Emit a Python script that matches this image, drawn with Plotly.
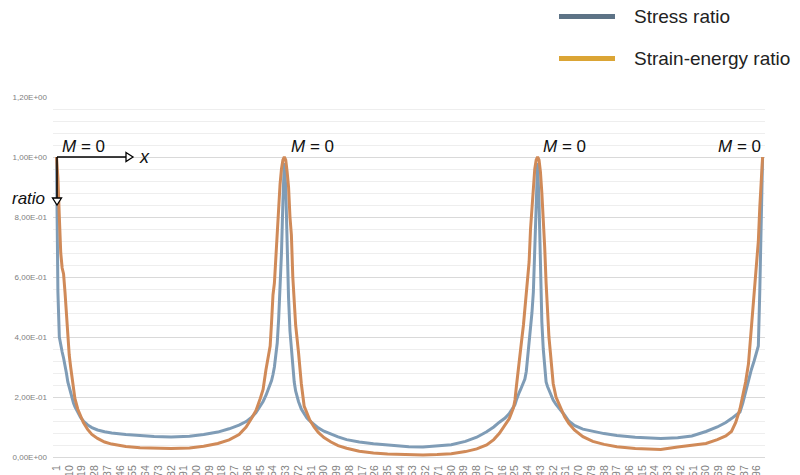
import plotly.graph_objects as go

# ---------------- data ----------------
# sample positions along the member (category index 1..500)
idx = [1, 2, 3, 4, 5, 6, 7, 8, 9, 10, 11, 12, 13, 14, 16, 18, 20, 23, 26, 30, 35, 40, 50, 60, 70, 82,
       95, 105, 115, 123, 130, 135, 139, 142, 145, 147, 149, 151, 152, 153, 154, 155, 156, 157, 158, 159, 160, 161, 162,
       163, 164, 165, 166, 167, 168, 169, 170, 172, 174, 176, 178, 180, 183, 186, 190, 195, 200, 206, 215, 225, 235,
       250, 260, 270, 280, 290, 298, 305, 310, 314, 318, 321, 324, 325, 326, 327, 328, 329, 330, 331, 332, 333, 334,
       335, 336, 337, 338, 339, 340, 341,
       342, 343, 344, 345, 346, 347, 348, 349, 350, 352, 354, 357, 360, 363, 367, 373, 380, 388, 397, 410, 428,
       440, 450, 460, 468, 474, 478, 481, 484, 486, 488, 490, 492, 494, 495, 496, 497, 498, 499, 500]

stress_ratio = [1.00, 0.55, 0.40, 0.37, 0.35, 0.33, 0.31, 0.28, 0.25, 0.23, 0.21, 0.195, 0.18, 0.168, 0.148, 0.132,
                0.12, 0.107, 0.098, 0.09, 0.084, 0.08, 0.075, 0.071, 0.068, 0.067,
                0.069, 0.075, 0.083, 0.094, 0.106, 0.118, 0.133, 0.148, 0.168, 0.185, 0.205, 0.23, 0.24, 0.255,
                0.275, 0.30, 0.34, 0.38, 0.46, 0.55, 0.68, 0.85, 0.98,
                0.90, 0.70, 0.53, 0.42, 0.36, 0.30, 0.25, 0.22, 0.185, 0.16, 0.145, 0.13, 0.12, 0.107, 0.097,
                0.086, 0.076, 0.067, 0.058, 0.05, 0.044, 0.039,
                0.034, 0.033, 0.036, 0.041, 0.052, 0.066, 0.084, 0.1, 0.116, 0.13, 0.145, 0.165, 0.175, 0.19,
                0.205, 0.215, 0.225, 0.235, 0.245, 0.26, 0.285, 0.33,
                0.37, 0.42, 0.48, 0.55, 0.68, 0.85, 0.98,
                0.85, 0.62, 0.45, 0.36, 0.29, 0.25, 0.235, 0.222, 0.21, 0.19, 0.175, 0.158, 0.14, 0.12, 0.105,
                0.093, 0.085, 0.078, 0.072, 0.066, 0.062,
                0.064, 0.07, 0.085, 0.1, 0.115, 0.128, 0.138, 0.15, 0.18, 0.22, 0.26, 0.29, 0.32, 0.335, 0.35,
                0.37, 0.55, 0.75, 1.00]

strain_energy_ratio = [1.00, 0.93, 0.80, 0.68, 0.63, 0.61, 0.55, 0.47, 0.40, 0.34, 0.30, 0.26, 0.22, 0.195, 0.16,
                       0.135, 0.115, 0.092, 0.075, 0.062, 0.05, 0.043, 0.035, 0.031, 0.029, 0.028,
                       0.03, 0.036, 0.045, 0.057, 0.075, 0.1, 0.13, 0.155, 0.195, 0.225, 0.29, 0.34, 0.37, 0.45,
                       0.54, 0.58, 0.66, 0.76, 0.85, 0.91, 0.96, 0.99, 1.00,
                       0.99, 0.95, 0.90, 0.80, 0.74, 0.60, 0.50, 0.44, 0.35, 0.245, 0.17, 0.145, 0.123, 0.10,
                       0.082, 0.065, 0.05, 0.038, 0.029, 0.019, 0.013, 0.01,
                       0.007, 0.007, 0.008, 0.011, 0.018, 0.027, 0.04, 0.058, 0.079, 0.105, 0.128, 0.165, 0.19,
                       0.235, 0.28, 0.33, 0.37, 0.40, 0.44, 0.49, 0.54, 0.58,
                       0.65, 0.76, 0.84, 0.90, 0.96, 0.99, 1.00,
                       0.99, 0.95, 0.88, 0.80, 0.70, 0.58, 0.48, 0.40, 0.35, 0.245, 0.2, 0.165, 0.135, 0.112, 0.09,
                       0.068, 0.052, 0.042, 0.034, 0.028, 0.025,
                       0.033, 0.039, 0.045, 0.058, 0.07, 0.085, 0.115, 0.16, 0.2, 0.25, 0.31, 0.42, 0.55, 0.6, 0.64,
                       0.72, 0.83, 0.92, 1.00]

x_tick_vals = list(range(1, 497, 9))
x_tick_text = [str(v) for v in x_tick_vals]
y_tick_vals = [0.0, 0.2, 0.4, 0.6, 0.8, 1.0, 1.2]
y_tick_text = ["0,00E+00", "2,00E-01", "4,00E-01", "6,00E-01", "8,00E-01", "1,00E+00", "1,20E+00"]
series_names = ["Stress ratio", "Strain-energy ratio"]
zero_moment_label = "<i>M</i> = 0"

# ---------------- layout geometry ----------------
W, H = 800, 475
ML, MR, MT, MB = 53, 35, 97, 18
PW, PH = W - ML - MR, H - MT - MB


def px(xp):
    return (xp - ML) / PW


def py(yp):
    return (H - MB - yp) / PH


FONT = "Liberation Sans, Arial, sans-serif"
BLUE = "#7f9cb6"
ORANGE = "#d08a58"

fig = go.Figure()
fig.add_trace(go.Scatter(x=idx, y=stress_ratio, mode="lines", name=series_names[0],
                         line=dict(color=BLUE, width=3), showlegend=False))
fig.add_trace(go.Scatter(x=idx, y=strain_energy_ratio, mode="lines", name=series_names[1],
                         line=dict(color=ORANGE, width=3), showlegend=False))

shapes = []
annotations = []

# legend (drawn manually, as in the reference)
leg = [(series_names[0], "#5d7386", 16.5), (series_names[1], "#dba535", 58.5)]
for name, col, yy in leg:
    shapes.append(dict(type="line", xref="paper", yref="paper", x0=px(559), x1=px(615), y0=py(yy), y1=py(yy),
                       line=dict(color=col, width=5)))
    annotations.append(dict(text=name, xref="paper", yref="paper", x=px(632), y=py(yy), xanchor="left",
                            yanchor="middle", showarrow=False, font=dict(family=FONT, size=19, color="#222222")))

# "M = 0" labels
for cx in [83, 312, 564, 739]:
    annotations.append(dict(text=zero_moment_label, xref="paper", yref="paper", x=px(cx), y=py(146),
                            xanchor="center", yanchor="middle", showarrow=False,
                            font=dict(family=FONT, size=17, color="#111111")))

# coordinate-system arrows
ox, oy = 57, 157
shapes.append(dict(type="line", xref="paper", yref="paper", x0=px(ox), y0=py(oy), x1=px(126), y1=py(oy),
                   line=dict(color="black", width=1.5)))
shapes.append(dict(type="path", xref="paper", yref="paper",
                   path=f"M {px(126)} {py(152.5)} L {px(133)} {py(157)} L {px(126)} {py(161.5)} Z",
                   line=dict(color="black", width=1.3), fillcolor="white"))
shapes.append(dict(type="line", xref="paper", yref="paper", x0=px(ox), y0=py(oy), x1=px(ox), y1=py(198),
                   line=dict(color="black", width=1.5)))
shapes.append(dict(type="path", xref="paper", yref="paper",
                   path=f"M {px(52.5)} {py(198)} L {px(57)} {py(205)} L {px(61.5)} {py(198)} Z",
                   line=dict(color="black", width=1.3), fillcolor="white"))
annotations.append(dict(text="<i>x</i>", xref="paper", yref="paper", x=px(137), y=py(157), xanchor="left",
                        yanchor="middle", showarrow=False, font=dict(family=FONT, size=18, color="#111111")))
annotations.append(dict(text="<i>ratio</i>", xref="paper", yref="paper", x=px(47), y=py(198), xanchor="right",
                        yanchor="middle", showarrow=False, font=dict(family=FONT, size=17, color="#111111")))

fig.update_layout(
    width=W, height=H,
    margin=dict(l=ML, r=MR, t=MT, b=MB, autoexpand=False),
    paper_bgcolor="white", plot_bgcolor="white",
    showlegend=False,
    shapes=shapes, annotations=annotations,
    font=dict(family=FONT),
    xaxis=dict(range=[-1.47, 501.7], tickmode="array", tickvals=x_tick_vals, ticktext=x_tick_text,
               tickangle=-90, tickfont=dict(size=10.5, color="#808080", family=FONT), showgrid=False,
               zeroline=False, showline=True, linecolor="#d9d9d9", linewidth=1, ticks="",
               automargin=False, ticklabelstandoff=3),
    yaxis=dict(range=[0, 1.2], tickmode="array", tickvals=y_tick_vals, ticktext=y_tick_text,
               tickfont=dict(size=8, color="#808080", family=FONT), showgrid=True, gridcolor="#d9d9d9",
               gridwidth=1, zeroline=False, showline=False, ticks="", automargin=False,
               ticklabelstandoff=5,
               minor=dict(dtick=0.04, tick0=0, showgrid=True, gridcolor="#eeeeee", gridwidth=1)),
)

fig.write_html("out.html", config={"displayModeBar": False},
               post_script="document.body.style.margin='0';document.body.style.overflow='hidden';")
